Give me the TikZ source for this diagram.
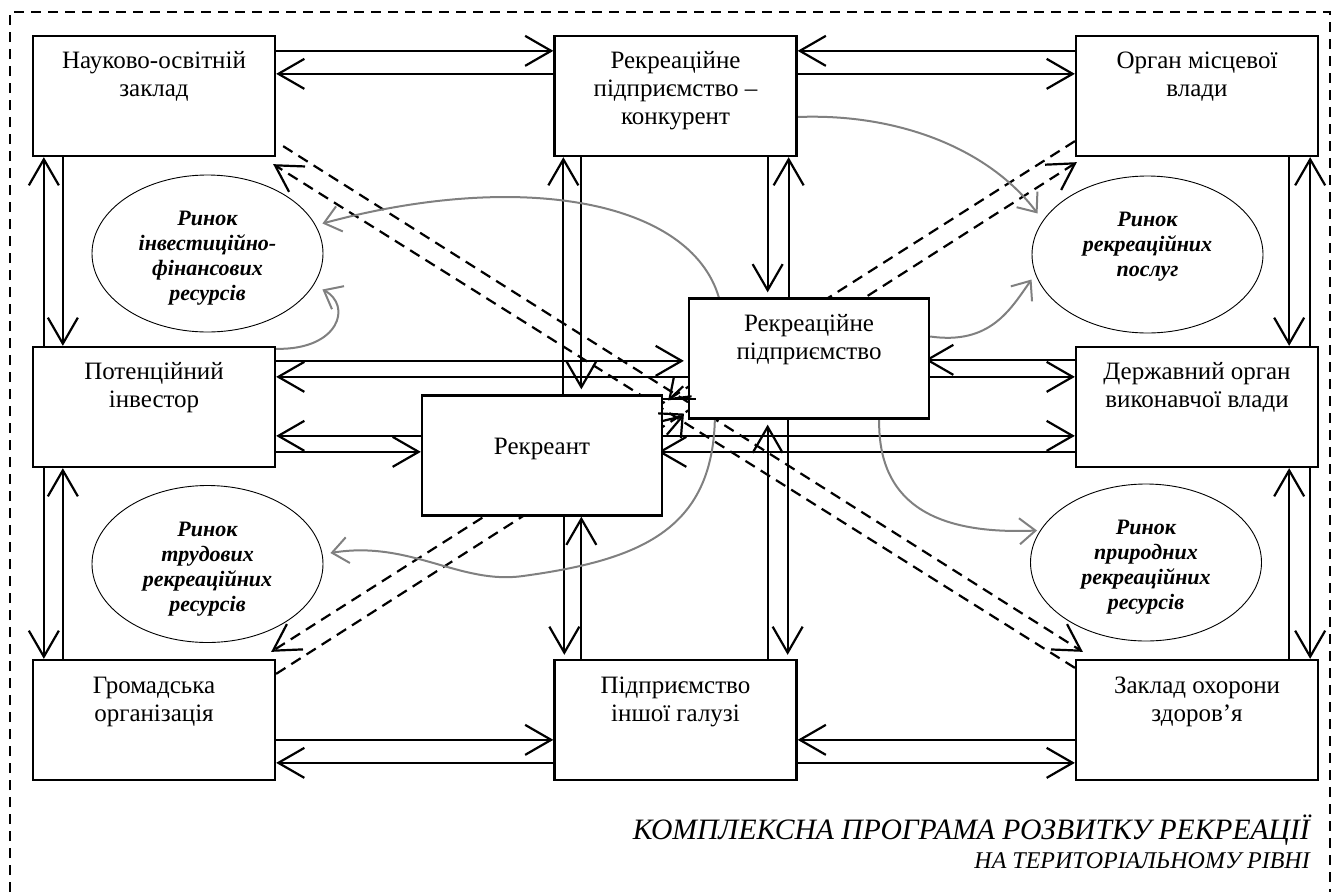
\documentclass[tikz,border=0pt]{standalone}
\usepackage{fontspec}
\setmainfont{Liberation Serif}
\usetikzlibrary{arrows.meta,shapes.geometric}
\pgfdeclarelayer{bg}
\pgfsetlayers{bg,main}
\begin{document}
\begin{tikzpicture}[x=1pt,y=-1pt,
  box/.style={draw, line width=2.3pt, fill=white, minimum width=242pt, minimum height=120pt, inner sep=0pt},
  cbox/.style={box, minimum width=240pt},
  txt/.style={anchor=north, align=center, inner sep=0pt, font=\rmfamily\fontsize{25}{28}\selectfont},
  ell/.style={ellipse, draw, line width=0.9pt, fill=white, inner sep=0pt, minimum width=231pt, minimum height=157pt},
  etxt/.style={anchor=north, align=center, inner sep=0pt, font=\rmfamily\fontsize{22}{25}\selectfont\bfseries\itshape},
  con/.style={line width=2.2pt, -{Straight Barb[length=26pt,width=30pt]}},
  scon/.style={line width=2.2pt, -{Straight Barb[length=18pt,width=26pt]}},
  dcon/.style={con, dash pattern=on 11pt off 7pt},
  gcon/.style={draw=gray, line width=2pt, -{Straight Barb[length=16pt,width=26pt]}},
  border/.style={line width=1.3pt, dash pattern=on 10pt off 7pt}
]
\useasboundingbox (0,0) rectangle (1338,892);
\draw[border] (10,892) -- (10,12) -- (1330,12) -- (1330,892);

% boxes
\node[box] (NO) at (154,96) {};
\node[box] (K) at (675.5,96) {};
\node[box] (OM) at (1197,96) {};
\node[box] (PI) at (154,407) {};
\node[box] (DO) at (1197,407) {};
\node[cbox] (RP) at (809,358.5) {};
\node[cbox] (R) at (542,455.5) {};
\node[box] (GO) at (154,720) {};
\node[box] (PG) at (675.5,720) {};
\node[box] (ZO) at (1197,720) {};

% ellipses
\node[ell] (E1) at (207.5,253.5) {};
\node[ell] (E2) at (1147.5,254.5) {};
\node[ell] (E3) at (207.5,564) {};
\node[ell] (E4) at (1146,562.5) {};

% texts
\node[txt] (tNO) at ([yshift=-13pt]NO.north) {\rule{0pt}{20pt}Науково-освітній\\заклад};
\node[txt] (tK) at ([yshift=-13pt]K.north) {\rule{0pt}{20pt}Рекреаційне\\підприємство –\\конкурент};
\node[txt] (tOM) at ([yshift=-13pt]OM.north) {\rule{0pt}{20pt}Орган місцевої\\влади};
\node[txt] (tPI) at ([yshift=-13pt]PI.north) {\rule{0pt}{20pt}Потенційний\\інвестор};
\node[txt] (tDO) at ([yshift=-13pt]DO.north) {\rule{0pt}{20pt}Державний орган\\виконавчої влади};
\node[txt] (tRP) at ([yshift=-14pt]RP.north) {\rule{0pt}{20pt}Рекреаційне\\підприємство};
\node[txt] (tR) at ([yshift=-40pt]R.north) {\rule{0pt}{20pt}Рекреант};
\node[txt] (tGO) at ([yshift=-14pt]GO.north) {\rule{0pt}{20pt}Громадська\\організація};
\node[txt] (tPG) at ([yshift=-14pt]PG.north) {\rule{0pt}{20pt}Підприємство\\іншої галузі};
\node[txt] (tZO) at ([yshift=-14pt]ZO.north) {\rule{0pt}{20pt}Заклад охорони\\здоров’я};

\node[etxt] (tE1) at ([yshift=48pt]E1.center) {\rule{0pt}{20pt}Ринок\\інвестиційно-\\фінансових\\ресурсів};
\node[etxt] (tE2) at ([yshift=48pt]E2.center) {\rule{0pt}{20pt}Ринок\\рекреаційних\\послуг};
\node[etxt] (tE3) at ([yshift=48pt]E3.center) {\rule{0pt}{20pt}Ринок\\трудових\\рекреаційних\\ресурсів};
\node[etxt] (tE4) at ([yshift=48pt]E4.center) {\rule{0pt}{20pt}Ринок\\природних\\рекреаційних\\ресурсів};

\node[anchor=base east, inner sep=0pt, font=\rmfamily\fontsize{29.6}{34}\selectfont\itshape] (cap1) at (1310,839) {КОМПЛЕКСНА ПРОГРАМА РОЗВИТКУ РЕКРЕАЦІЇ};
\node[anchor=base east, inner sep=0pt, font=\rmfamily\fontsize{24}{28}\selectfont\itshape] (cap2) at (1310,868) {НА ТЕРИТОРІАЛЬНОМУ РІВНІ};

\begin{pgfonlayer}{bg}
% dashed diagonals
\draw[dcon] ([shift={(7pt,11pt)}]NO.south east) -- ([shift={(8pt,7pt)}]ZO.north west);
\draw[dcon] ([yshift=-9pt]ZO.north west) -- ([shift={(-3pt,-7pt)}]NO.south east);
\draw[dcon] ([yshift=16pt]OM.south west) -- ([shift={(-5pt,7pt)}]GO.north east);
\draw[dcon] ([yshift=-15pt]GO.north east) -- ([shift={(2pt,-5pt)}]OM.south west);

% top row
\draw[con] ([yshift=-16pt]NO.north east) -- ([yshift=-16pt]K.north west);
\draw[con] ([yshift=-39pt]K.north west) -- ([yshift=-39pt]NO.north east);
\draw[con] ([yshift=-16pt]OM.north west) -- ([yshift=-16pt]K.north east);
\draw[con] ([yshift=-39pt]K.north east) -- ([yshift=-39pt]OM.north west);
% left column
\draw[con] ([xshift=12pt]PI.north west) -- ([xshift=12pt]NO.south west);
\draw[con] ([xshift=31pt]NO.south west) -- ([xshift=31pt]PI.north west);
\draw[con] ([xshift=12pt]PI.south west) -- ([xshift=12pt]GO.north west);
\draw[con] ([xshift=31pt]GO.north west) -- ([xshift=31pt]PI.south west);
% right column
\draw[con] ([xshift=-30pt]OM.south east) -- ([xshift=-30pt]DO.north east);
\draw[con] ([xshift=-9pt]DO.north east) -- ([xshift=-9pt]OM.south east);
\draw[con] ([xshift=-30pt]ZO.north east) -- ([xshift=-30pt]DO.south east);
\draw[con] ([xshift=-9pt]DO.south east) -- ([xshift=-9pt]ZO.north east);
% K - R, K - RP
\draw[con] ([xshift=10pt]K.south west |- R.north) -- ([xshift=10pt]K.south west);
\draw[con, shorten >=5pt] ([xshift=28pt]K.south west) -- ([xshift=28pt]K.south west |- R.north);
\draw[con, shorten >=5pt] ([xshift=-30pt]K.south east) -- ([xshift=-30pt]K.south east |- RP.north);
\draw[con] ([xshift=-9pt]K.south east |- RP.north) -- ([xshift=-9pt]K.south east);
% R - PG, RP - PG
\draw[con, shorten >=4pt] ([xshift=11pt]PG.north west |- R.south) -- ([xshift=11pt]PG.north west);
\draw[con] ([xshift=28pt]PG.north west) -- ([xshift=28pt]PG.north west |- R.south);
\draw[con, shorten >=5pt] ([xshift=-30pt]PG.north east) -- ([xshift=-30pt]PG.north east |- RP.south);
\draw[con, shorten >=4pt] ([xshift=-10pt]PG.north east |- RP.south) -- ([xshift=-10pt]PG.north east);
% middle horizontals
\draw[con, shorten >=4pt] ([yshift=-15pt]PI.north east) -- ([yshift=-15pt]PI.north east -| RP.west);
\draw[con] ([yshift=-31pt]PI.north east -| RP.west) -- ([yshift=-31pt]PI.north east);
\draw[con] ([yshift=-90pt]PI.north east -| R.west) -- ([yshift=-90pt]PI.north east);
\draw[con] ([yshift=-106pt]PI.north east) -- ([yshift=-106pt]PI.north east -| R.west);
\draw[con, shorten >=-5pt] ([yshift=-14pt]DO.north west) -- ([yshift=-14pt]DO.north west -| RP.east);
\draw[con] ([yshift=-31pt]DO.north west -| RP.east) -- ([yshift=-31pt]DO.north west);
\draw[con] ([yshift=-90pt]DO.north west -| R.east) -- ([yshift=-90pt]DO.north west);
\draw[con, shorten >=-5pt] ([yshift=-106pt]DO.north west) -- ([yshift=-106pt]DO.north west -| R.east);
% bottom row
\draw[con] ([yshift=-81pt]GO.north east) -- ([yshift=-81pt]PG.north west);
\draw[con] ([yshift=-104pt]PG.north west) -- ([yshift=-104pt]GO.north east);
\draw[con] ([yshift=-81pt]ZO.north west) -- ([yshift=-81pt]PG.north east);
\draw[con] ([yshift=-104pt]PG.north east) -- ([yshift=-104pt]ZO.north west);

% gray curves
\draw[gcon] ([xshift=31pt]RP.north west) .. controls (690,200) and (520,170) .. ([shift={(-1pt,30pt)}]E1.east);
\draw[gcon] ([yshift=-3pt]PI.north east) .. controls (340,350) and (352,305) .. ([shift={(-1pt,-36pt)}]E1.east);
\draw[gcon] ([yshift=-21pt]K.east) .. controls (900,113) and (990,150) .. ([shift={(6pt,41pt)}]E2.west);
\draw[gcon] ([yshift=22pt]RP.east) .. controls (990,345) and (1010,310) .. ([yshift=-25pt]E2.west);
\draw[gcon] ([xshift=-51pt]RP.south east) .. controls (878,500) and (930,535) .. ([shift={(7pt,32pt)}]E4.west);
\draw[gcon] ([xshift=27pt]RP.south west) .. controls (712,530) and (640,560) .. (523,576) .. controls (460,585) and (410,540) .. ([shift={(7pt,11pt)}]E3.east);
\end{pgfonlayer}

% small arrows between R and RP
\coordinate (h1) at ([shift={(33pt,-5pt)}]R.north east);
\draw[line width=2.2pt] ([yshift=-5pt]R.north east) -- (h1);
\draw[scon] ([shift={(20pt,8pt)}]R.north east) -- ([shift={(5pt,-6pt)}]R.north east);
\draw[line width=2.2pt] ([shift={(-5pt,-19pt)}]R.north east) -- ([shift={(-4pt,5pt)}]RP.south west);
\draw[scon] ([shift={(-21pt,-15pt)}]RP.south west) -- ([shift={(-4pt,5pt)}]RP.south west);
\end{tikzpicture}
\end{document}
